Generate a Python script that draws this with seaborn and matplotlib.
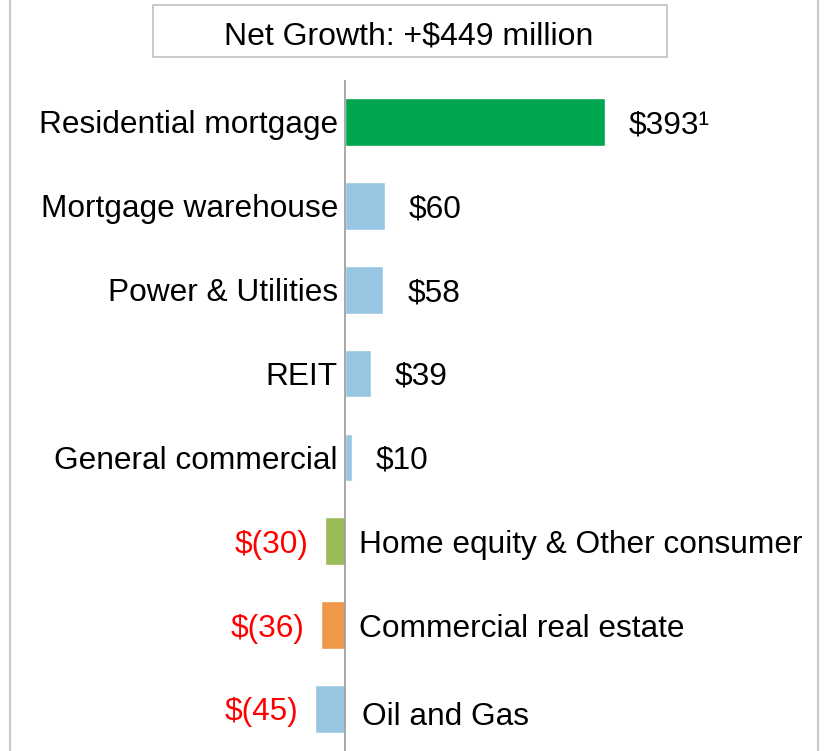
import matplotlib
matplotlib.use('Agg')
import matplotlib.pyplot as plt
import seaborn as sns
import pandas as pd
from matplotlib.patches import Rectangle
from matplotlib.lines import Line2D

# Loan growth by category ($ millions)
categories = ['Residential mortgage', 'Mortgage warehouse', 'Power & Utilities', 'REIT',
              'General commercial', 'Home equity & Other consumer', 'Commercial real estate',
              'Oil and Gas']
values = [393, 60, 58, 39, 10, -30, -36, -45]
value_labels = ['$393\u00b9', '$60', '$58', '$39', '$10', '$(30)', '$(36)', '$(45)']
bar_colors = ['#00A550', '#97C5E2', '#97C5E2', '#97C5E2', '#97C5E2',
              '#9BBB59', '#F0984A', '#97C5E2']
title_text = 'Net Growth: +$449 million'

sns.set_style('white')
plt.rcParams['font.family'] = ['Liberation Sans', 'DejaVu Sans']
plt.rcParams['text.parse_math'] = False

W, H, DPI = 827, 751, 100
fig = plt.figure(figsize=(W / DPI, H / DPI), dpi=DPI)

# axes spans the plot area under the title box
ax = fig.add_axes([0, 0, 1, 1 - 80 / H])
df = pd.DataFrame({'category': categories, 'value': values})
sns.barplot(data=df, x='value', y='category', hue='category', palette=bar_colors,
            orient='h', width=0.57, legend=False, ax=ax, saturation=1)

# 0 sits at x=345px, 393 ends at x=605px
px_per_unit = 260 / 393
ax.set_xlim(-345 / px_per_unit, (W - 345) / px_per_unit)
ax.set_ylim(len(categories) - 0.5, -0.5)
ax.axis('off')
ax.axvline(0, color='#999999', lw=1.2)

fs = 22.8
cap_half = 0.716 * fs * DPI / 72 / 2
for i, (cat, val, lab) in enumerate(zip(categories, values, value_labels)):
    if val >= 0:
        ax.annotate(cat, (0, i), xytext=(-7, -cap_half), textcoords='offset pixels',
                    ha='right', va='baseline', fontsize=fs, color='black')
        ax.annotate(lab, (val, i), xytext=(24, -cap_half), textcoords='offset pixels',
                    ha='left', va='baseline', fontsize=fs, color='black')
    else:
        # last label sits a little lower in the original
        extra = 5 if i == len(categories) - 1 else 0
        ax.annotate(cat, (0, i), xytext=(14 + extra * 0.6, -cap_half - extra),
                    textcoords='offset pixels',
                    ha='left', va='baseline', fontsize=fs, color='black')
        ax.annotate(lab, (val, i), xytext=(-17, -cap_half), textcoords='offset pixels',
                    ha='right', va='baseline', fontsize=fs, color='#FF0000')

# title box
fig.patches.append(Rectangle((152.5 / W, 1 - 57 / H), (666.5 - 152.5) / W, 52 / H,
                             transform=fig.transFigure, facecolor='white',
                             edgecolor='#c0c0c0', lw=1.2))
fig.text(409 / W, 1 - 44.3 / H, title_text, ha='center', va='baseline', fontsize=23,
         color='black')

# side frame lines
for xp in (10, 818):
    fig.add_artist(Line2D([xp / W, xp / W], [0, 1], transform=fig.transFigure,
                          color='#c8c8c8', lw=1.5))

plt.savefig('out.png', dpi=DPI)
